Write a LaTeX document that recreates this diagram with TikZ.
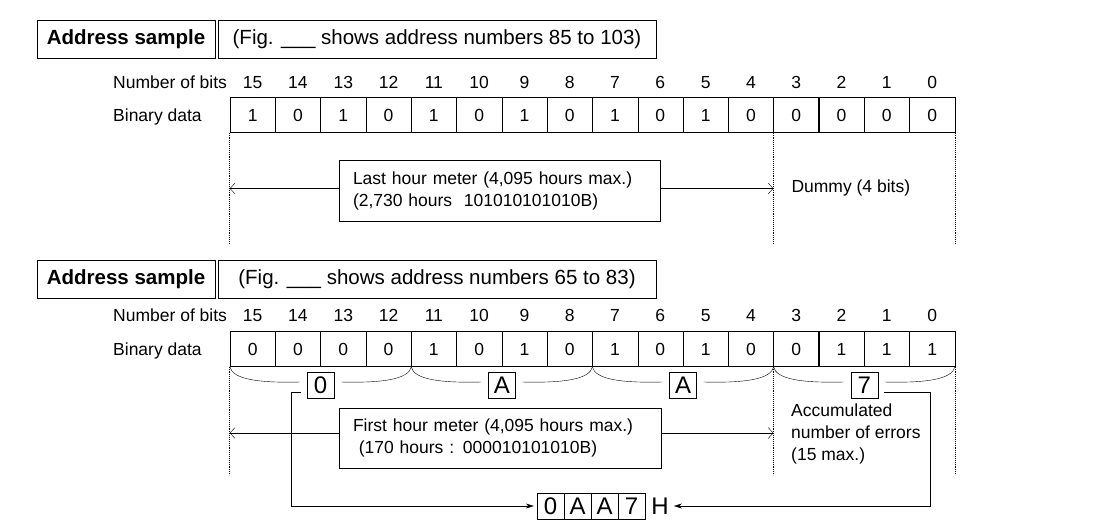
\documentclass[tikz,border=0pt]{standalone}
\usepackage{fontspec}
\setmainfont{Liberation Sans}
\usetikzlibrary{arrows.meta}
\usetikzlibrary{positioning}
\newcommand\bitfont{\fontsize{17.5}{22}\selectfont}
\newcommand\headfont{\fontsize{20.5}{24}\selectfont}
\newcommand\hexfont{\fontsize{24}{26}\selectfont}

\begin{document}
\begin{tikzpicture}[x=1pt,y=-1pt]
  \tikzset{cell/.style={draw, minimum width=45.3pt, minimum height=35pt, inner sep=0pt, text height=12.5pt, text depth=0pt, font=\bitfont}}
  \tikzset{bitno/.style={anchor=base, inner sep=0pt, font=\bitfont}}
  \tikzset{rowlabel/.style={anchor=base west, inner sep=0pt, font=\bitfont}}
  \tikzset{headbox/.style={draw, minimum height=38pt, inner sep=0pt, font=\headfont}}
  \tikzset{hexbox/.style={draw, minimum width=27pt, minimum height=26pt, inner sep=0pt, text height=17pt, text depth=0pt, font=\hexfont}}
  \tikzset{dotline/.style={densely dotted, line width=0.9pt}}
  \tikzset{openarrow/.style={draw, -{Straight Barb[length=5pt,width=11pt]}}}
  \tikzset{fillarrow/.style={draw, -{Stealth[length=8pt,width=5pt]}}}
  \useasboundingbox (0,0) rectangle (1110,531);

  % upper sample
  \node[headbox, minimum width=178pt, font=\headfont\bfseries] (head1) at (126,39) {Address sample};
  \node[headbox, minimum width=438pt] (fig1) at (437,39) {(Fig. \_\_\_ shows address numbers 85 to 103)};
  \node[rowlabel] (nb1) at (113,88) {Number of bits};
  \node[rowlabel] (bd1) at (113,121) {Binary data};
  \foreach \v [count=\i from 0] in {1,0,1,0,1,0,1,0,1,0,1,0,0,0,0,0} {
    \pgfmathtruncatemacro\n{15-\i}
    \node[cell] (t\i) at ({252.65+45.3*\i},115) {\v};
    \node[bitno] (tn\i) at ({252.65+45.3*\i},88) {\n};
  }
  \draw[line width=1.3pt] (t4.north east) -- (t4.south east);
  \draw[line width=1.3pt] (t12.north east) -- (t12.south east);
  \draw[dotline] (t0.south west) -- (t0.south west |- 0,243);
  \draw[dotline] (t12.south west) -- (t12.south west |- 0,243);
  \draw[dotline] (t15.south east) -- (t15.south east |- 0,243);

  \node[draw, align=left, minimum width=321pt, minimum height=61pt, text width=293pt, inner xsep=14pt, font=\bitfont] (last) at (499.5,190.5)
    {Last hour meter (4,095 hours max.)\\(2,730 hours~ 101010101010B)};
  \draw[openarrow] ([yshift=2pt]last.west) -- ([yshift=2pt]t0.south west |- last.west);
  \draw[openarrow] ([yshift=2pt]last.east) -- ([yshift=2pt]t12.south west |- last.east);
  \node[font=\bitfont, anchor=west] (dummy) at (788,188) {Dummy (4 bits)};

  % lower sample
  \node[headbox, minimum width=178pt, font=\headfont\bfseries] (head2) at (126,279) {Address sample};
  \node[headbox, minimum width=438pt] (fig2) at (437,279) {(Fig. \_\_\_ shows address numbers 65 to 83)};
  \node[rowlabel] (nb2) at (113,321) {Number of bits};
  \node[rowlabel] (bd2) at (113,355) {Binary data};
  \foreach \v [count=\i from 0] in {0,0,0,0,1,0,1,0,1,0,1,0,0,1,1,1} {
    \pgfmathtruncatemacro\n{15-\i}
    \node[cell] (c\i) at ({252.65+45.3*\i},349) {\v};
    \node[bitno] (cn\i) at ({252.65+45.3*\i},321) {\n};
  }
  \draw[line width=1.3pt] (c4.north east) -- (c4.south east);
  \draw[line width=1.3pt] (c12.north east) -- (c12.south east);
  \draw[dotline] (c0.south west) -- (c0.south west |- 0,475);
  \draw[dotline] (c12.south west) -- (c12.south west |- 0,475);
  \draw[dotline] (c15.south east) -- (c15.south east |- 0,475);

  \foreach \k/\h in {0/0,1/A,2/A,3/7} {
    \pgfmathtruncatemacro\l{4*\k}
    \pgfmathtruncatemacro\r{4*\k+3}
    \node[hexbox] (h\k) at ({320.6+181.2*\k},385) {\h};
    \draw (c\l.south west) .. controls +(3,13) and +(-40,1) .. ([xshift=-7pt,yshift=3pt]h\k.west);
    \draw ([xshift=7pt,yshift=3pt]h\k.east) .. controls +(40,1) and +(-3,13) .. (c\r.south east);
  }

  \node[draw, align=left, minimum width=322pt, minimum height=60pt, text width=294pt, inner xsep=14pt, font=\bitfont] (first) at (500,438)
    {First hour meter (4,095 hours max.)\\ \ (170 hours : 000010101010B)};
  \draw[openarrow] ([yshift=5pt]first.west) -- ([yshift=5pt]c0.south west |- first.west);
  \draw[openarrow] ([yshift=5pt]first.east) -- ([yshift=5pt]c12.south west |- first.east);
  \node[font=\bitfont, align=left, anchor=west, inner sep=2pt] (acc) at (789,434)
    {Accumulated\\number of errors\\(15 max.)};

  \foreach \k/\h in {0/0,1/A,2/A,3/7}
    \node[hexbox] (r\k) at ({550.5+27*\k},506) {\h};
  \node[font=\hexfont, anchor=west, inner xsep=2pt, inner ysep=0pt] (rH) at ([xshift=4pt]r3.east) {H};

  \draw[fillarrow] ([xshift=-6pt,yshift=-7pt]h0.west) -- ++(-10,0) |- ([xshift=-3pt]r0.west);
  \draw[fillarrow] ([xshift=6pt,yshift=-7pt]h3.east) -- ++(46,0) |- ([xshift=3pt]rH.east);
\end{tikzpicture}
\end{document}
